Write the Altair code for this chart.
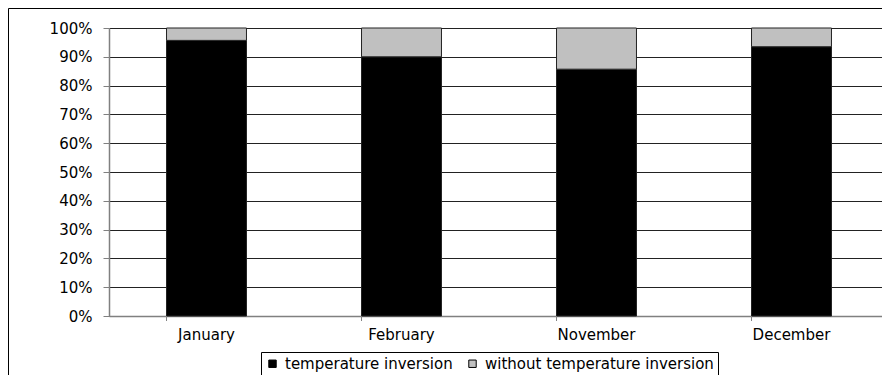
import altair as alt
import pandas as pd

months = ["January", "February", "November", "December"]
inversion = [95.7, 90.0, 85.7, 93.5]
without_inversion = [4.3, 10.0, 14.3, 6.5]
series = ["temperature inversion", "without temperature inversion"]
colors = ["#000000", "#c0c0c0"]

rows = []
for m, a, b in zip(months, inversion, without_inversion):
    rows.append({"month": m, "series": series[0], "value": a / 100, "idx": 0})
    rows.append({"month": m, "series": series[1], "value": b / 100, "idx": 1})
df = pd.DataFrame(rows)

FONT = "DejaVu Sans"
FS = 15
W, H = 773, 288

xscale = alt.Scale(domain=months, range=[0, 780], paddingInner=0.59, paddingOuter=0.295)

bars = alt.Chart(df).mark_bar(stroke="#222222", strokeWidth=1).encode(
    x=alt.X("month:N", scale=xscale, sort=months,
            axis=alt.Axis(title=None, labelAngle=0, ticks=False, labelPadding=11,
                          domainColor="#808080", domainWidth=1.5,
                          labelFont=FONT, labelFontSize=FS, labelColor="#000")),
    y=alt.Y("value:Q", stack="zero",
            scale=alt.Scale(domain=[0, 1], nice=False),
            axis=alt.Axis(title=None, format=".0%", values=[i / 10 for i in range(11)],
                          grid=True, gridColor="#222222", gridWidth=1,
                          domainColor="#808080", domainWidth=1.5,
                          tickColor="#808080", tickSize=6, labelPadding=11,
                          labelFont=FONT, labelFontSize=FS, labelColor="#000")),
    color=alt.Color("series:N", scale=alt.Scale(domain=series, range=colors),
                    legend=alt.Legend(title=None, orient="none", legendX=152, legendY=324,
                                      direction="horizontal", symbolType="square",
                                      symbolSize=55, symbolStrokeColor="#000",
                                      symbolStrokeWidth=1, strokeColor="#000",
                                      fillColor="#ffffff", padding=4, labelLimit=0,
                                      labelFont=FONT, labelFontSize=FS, labelColor="#000",
                                      columnPadding=12, labelOffset=5)),
    order=alt.Order("idx:Q"),
)

ticks = alt.Chart(pd.DataFrame({"month": months})).mark_rule(color="#808080", strokeWidth=1).encode(
    x=alt.X("month:N", scale=xscale, sort=months, bandPosition=0),
    y=alt.value(H),
    y2=alt.value(H + 5),
)

frame = alt.Chart(pd.DataFrame({"a": [0]})).mark_rect(
    fill=None, stroke="#000000", strokeWidth=1
).encode(
    x=alt.value(-100.5), x2=alt.value(W + 50),
    y=alt.value(-19.5), y2=alt.value(H + 200),
)

chart = alt.layer(frame, bars, ticks).properties(
    width=W, height=H,
    padding={"left": 101, "top": 20, "right": 0, "bottom": 59},
    autosize=alt.AutoSizeParams(type="none"),
).configure_view(stroke=None)

chart.save("out.html", embed_options={"renderer": "svg", "actions": False})
